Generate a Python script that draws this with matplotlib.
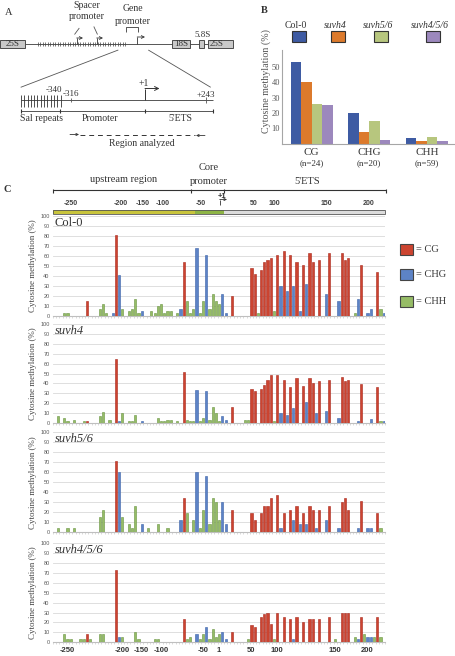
import matplotlib
matplotlib.use('Agg')
import matplotlib.pyplot as plt
from matplotlib.patches import Rectangle
import numpy as np

# ---------------- DATA ----------------
# sequence context of each analysed cytosine (103 positions, 5'->3')
# c = CG, h = CHG, y = CHH
context_codes = ("yyyyyyyyyy" "cyyyyyyyhc" "hyyyyyyhyy" "yyyyyyyyyh" "cyyyhyyhyy"
                 "yyhhycyyyy" "yccyccccyc" "hchchchchc" "chcyhcyyhc" "ccyyhcyhhy" "cyh")
context_names = {'c': 'CG', 'h': 'CHG', 'y': 'CHH'}
contexts = [context_names[k] for k in context_codes]

col0 = [0, 0, 0, 2.5, 2.5, 0, 0, 0, 0, 0,
        15, 0, 0, 0, 7, 12, 2.5, 0, 2.5, 81,
        41, 7, 0, 5, 7, 17, 2.5, 5, 0, 0,
        5, 2.5, 10, 12, 2.5, 5, 5, 0, 2.5, 7,
        54, 15, 2.5, 7, 68, 2.5, 15, 61, 7, 22,
        15, 12, 22, 2.5, 0, 20, 0, 0, 0, 0,
        0, 48, 42, 2.5, 46, 54, 56, 58, 5, 61,
        30, 65, 25, 61, 30, 54, 5, 51, 32, 63,
        54, 0, 56, 0, 22, 63, 0, 0, 15, 63,
        56, 58, 0, 2.5, 17, 51, 0, 2.5, 7, 0,
        44, 7, 2.5]
suvh4 = [0, 7, 0, 5, 2, 0, 3, 0, 0, 2,
         2, 0, 0, 0, 7, 11, 0, 3, 0, 65,
         2, 10, 0, 2, 2, 8, 0, 2, 0, 0,
         0, 0, 5, 2, 2, 3.5, 3.5, 0, 2, 0,
         52, 3.5, 2, 2, 33, 2, 5, 32, 3.5, 16,
         10, 2, 7, 3.5, 0, 16, 0, 0, 0, 3.5,
         3.5, 34, 32, 0, 34, 38, 43, 48, 2, 48,
         10, 43, 8, 36, 15, 45, 0, 37, 21, 45,
         40, 10, 42, 0, 12, 43, 0, 0, 5, 46,
         42, 43, 0, 0, 2, 39, 0, 0, 4, 0,
         36, 2, 2]
suvh56 = [0, 4, 0, 0, 4, 0, 4, 0, 0, 0,
          0, 0, 0, 0, 15, 22, 0, 0, 0, 71,
          60, 15, 0, 8, 4, 26, 0, 8, 0, 4,
          0, 0, 8, 0, 0, 4, 0, 0, 0, 12,
          34, 19, 0, 12, 60, 4, 22, 56, 8, 34,
          30, 12, 30, 8, 0, 22, 0, 0, 0, 0,
          0, 19, 12, 0, 19, 26, 26, 34, 0, 37,
          4, 19, 0, 22, 12, 26, 8, 19, 8, 26,
          22, 4, 22, 0, 12, 26, 0, 0, 4, 30,
          34, 22, 0, 0, 4, 31, 0, 4, 4, 0,
          19, 4, 0]
suvh456 = [0, 0, 0, 8, 3, 3, 0, 0, 3, 3,
           8, 3, 0, 0, 8, 8, 0, 0, 0, 73,
           5, 5, 0, 0, 0, 10, 3, 0, 0, 0,
           0, 3, 3, 0, 0, 0, 0, 0, 0, 0,
           23, 3, 5, 0, 8, 3, 8, 15, 3, 13,
           5, 8, 10, 3, 0, 10, 0, 0, 0, 0,
           3, 17, 15, 0, 25, 28, 30, 18, 3, 30,
           0, 25, 0, 23, 3, 25, 0, 20, 0, 23,
           23, 0, 23, 0, 0, 25, 0, 3, 0, 30,
           30, 30, 0, 5, 3, 25, 8, 5, 5, 5,
           25, 5, 0]
panel_names = ['Col-0', 'suvh4', 'suvh5/6', 'suvh4/5/6']
panel_data = [col0, suvh4, suvh56, suvh456]
xtick_pos = [4, 21, 27, 33, 46, 51, 61, 69, 87, 97]
xtick_labels = ['-250', '-200', '-150', '-100', '-50', '1', '50', '100', '150', '200']
top_labels = ['-250', '-200', '-150', '-100', '-50', '50', '100', '150', '200']

# panel B
b_groups = ['CG', 'CHG', 'CHH']
b_counts = ['(n=24)', '(n=20)', '(n=59)']
b_genotypes = ['Col-0', 'suvh4', 'suvh5/6', 'suvh4/5/6']
b_col0 = [53.5, 20, 3.8]
b_suvh4 = [40, 7.5, 2]
b_suvh56 = [26, 14.5, 4.4]
b_suvh456 = [25, 2.4, 2]

# ---------------- STYLE ----------------
W, H = 456, 656
SERIF = ['Liberation Serif', 'DejaVu Serif']
SANS = ['Liberation Sans', 'DejaVu Sans']
TXT = '#333333'
LINE = '#555555'
ctx_face = {'CG': '#cc4430', 'CHG': '#5d83c6', 'CHH': '#96bc66'}
ctx_edge = {'CG': '#a8251a', 'CHG': '#3a62a8', 'CHH': '#679340'}
b_colors = ['#3e5ba3', '#dc7a2c', '#b7c67e', '#9c88bd']

fig = plt.figure(figsize=(W / 100, H / 100), dpi=100)


def rect(l, t, r, b):
    return [l / W, 1 - b / H, (r - l) / W, (b - t) / H]


ov = fig.add_axes([0, 0, 1, 1])
ov.set_xlim(0, W)
ov.set_ylim(H, 0)
ov.axis('off')


def T(x, y, s, size=7, fam=SERIF, **kw):
    kw.setdefault('ha', 'center')
    kw.setdefault('va', 'center')
    kw.setdefault('color', TXT)
    ov.text(x, y, s, fontsize=size, family=fam, **kw)


def L(xs, ys, lw=0.7, color=LINE, **kw):
    ov.plot(xs, ys, color=color, lw=lw, solid_capstyle='butt', **kw)


def bent_arrow(x, y0, y1, x1, lw=0.6, ms=5):
    L([x, x], [y0, y1], lw=lw, color=TXT)
    ov.annotate('', xy=(x1, y1), xytext=(x - 0.3, y1),
                arrowprops=dict(arrowstyle='->', lw=lw, color=TXT,
                                mutation_scale=ms, shrinkA=0, shrinkB=0))

# ---------------- PANEL A ----------------
T(8.5, 12.5, 'A', 7.5)
L([25, 172], [44, 44])
L([190, 199], [44, 44])
L([204, 208], [44, 44])
for (x0, w, lab) in [(0, 25, '25S'), (172, 18, '18S'), (199, 5, ''), (208, 25, '')]:
    ov.add_patch(Rectangle((x0, 40.3), w, 7.5, facecolor='#c9c9c9',
                           edgecolor='#333333', lw=0.6, zorder=3))
    if lab:
        T(x0 + w / 2, 44.2, lab, 6.5, zorder=4)
T(217, 44.2, '25S', 6.5, zorder=4)
T(202.5, 35, '5.8S', 6.5)
for x in np.arange(38, 128, 2.5):
    L([x, x], [41.8, 46.2], lw=0.5, color='#444444')
bent_arrow(77, 44, 38, 83)
bent_arrow(97, 44, 38, 103)
bent_arrow(137.5, 44, 37, 145)
T(86.5, 6, 'Spacer', 7)
T(87, 16.7, 'promoter', 7)
L([79.3, 74.5], [28, 34.5], lw=0.6)
L([93.8, 97.5], [26.5, 34.5], lw=0.6)
T(133, 8.3, 'Gene', 7)
T(133, 21.5, 'promoter', 7)
L([126, 126, 137.7, 137.7], [31.7, 26.8, 26.8, 31.7], lw=0.7)
L([118.3, 20.7], [50, 87.3], lw=0.6)
L([148.3, 210.7], [50, 87.3], lw=0.6)

L([20.7, 213.3], [100, 100])
for x in np.arange(21, 61, 3.3):
    L([x, x], [95, 106.5], lw=0.6, color='#333333')
L([71, 71], [97.5, 102], lw=0.6)
L([205.7, 205.7], [97, 102.5], lw=0.6)
T(53.5, 90.5, '-340', 6.5)
T(70.5, 94.5, '-316', 6.5)
bent_arrow(145.3, 100, 88.5, 159.5, lw=0.7, ms=7)
T(144, 83, '+1', 7)
T(205.5, 95, '+243', 6.5)
L([20.7, 213.3], [111, 111])
for x in [20.7, 60, 145.3, 213.3]:
    L([x, x], [108.5, 113], lw=0.8, color='#333333')
T(41.5, 118.5, 'Sal repeats', 7)
T(99.5, 118.5, 'Promoter', 7)
T(180, 118.5, "5'ETS", 7)
L([80, 195], [135, 135], lw=0.7, linestyle=(0, (5, 4)), color='#333333')
ov.annotate('', xy=(79, 134.5), xytext=(70, 134.5),
            arrowprops=dict(arrowstyle='->', lw=0.6, color=TXT, mutation_scale=4,
                            shrinkA=0, shrinkB=0))
ov.annotate('', xy=(196, 135.5), xytext=(205, 135.5),
            arrowprops=dict(arrowstyle='->', lw=0.6, color=TXT, mutation_scale=4,
                            shrinkA=0, shrinkB=0))
T(141.7, 143.5, 'Region analyzed', 7)

# ---------------- PANEL B ----------------
T(264.3, 10.7, 'B', 7.5, weight='bold')
legend_x = [299.2, 338.3, 380.7, 432.7]
for i, g in enumerate(b_genotypes):
    T(legend_x[i] - 3, 25, g, 7, style='normal' if g == 'Col-0' else 'italic')
    ov.add_patch(Rectangle((legend_x[i] - 7, 30.7), 14, 11.5, facecolor=b_colors[i],
                           edgecolor='#333333', lw=0.8))
axb = fig.add_axes(rect(282.3, 50, 455, 143.7))
b_series = [b_col0, b_suvh4, b_suvh56, b_suvh456]
bw = 0.183
xg = np.arange(len(b_groups))
for i, vals in enumerate(b_series):
    axb.bar(xg + (i - 1.5) * bw, vals, width=bw, color=b_colors[i], edgecolor='none')
axb.set_xlim(-0.51, 2.49)
axb.set_ylim(0, 61)
axb.set_yticks([10, 20, 30, 40, 50])
axb.set_yticklabels(['10', '20', '30', '40', '50'], family=SERIF, fontsize=6, color='#555555')
axb.tick_params(axis='y', length=0, pad=1.5)
axb.set_xticks([])
for s in ['top', 'right']:
    axb.spines[s].set_visible(False)
for s in ['left', 'bottom']:
    axb.spines[s].set_color('#a6a6a6')
    axb.spines[s].set_linewidth(0.8)
for i, (g, n) in enumerate(zip(b_groups, b_counts)):
    axb.text(i, -0.09, g, transform=axb.get_xaxis_transform(), ha='center', va='center',
             fontsize=8, family=SERIF, color=TXT)
    axb.text(i, -0.21, n, transform=axb.get_xaxis_transform(), ha='center', va='center',
             fontsize=6.5, family=SERIF, color=TXT)
T(266, 80.8, 'Cytosine methylation (%)', 7.2, rotation=90, color='#555555')

# ---------------- PANEL C ----------------
T(7.5, 190, 'C', 7.5, weight='bold')
T(123.3, 180, 'upstream region', 7.5)
T(208.5, 167, 'Core', 7.5)
T(208.5, 181.7, 'promoter', 7.5)
T(306.7, 181.7, "5'ETS", 7.5)
L([53.3, 386], [189.5, 189.5], lw=0.8, color='#333333')
for x in [53.5, 190.7, 224.5, 385.7]:
    L([x, x], [189.1, 193], lw=0.8, color='#333333')
T(222, 196.3, '+1', 5.5, fam=SANS, weight='bold')
bent_arrow(220, 205, 199.5, 227, lw=0.6, ms=4)
top_x = [71, 120.7, 142.7, 162.7, 200.3, 253.3, 274, 326.7, 369]
for x, s in zip(top_x, top_labels):
    T(x, 203.3, s, 5, fam=SANS, weight='bold', color='#404040')
ov.add_patch(Rectangle((53.3, 209.8), 195 - 53.3, 3.7, facecolor='#c8c43c', edgecolor='none'))
ov.add_patch(Rectangle((195, 209.8), 224.3 - 195, 3.7, facecolor='#8db445', edgecolor='none'))
ov.add_patch(Rectangle((224.3, 209.8), 385.3 - 224.3, 3.7, facecolor='#dcdcdc', edgecolor='none'))
ov.add_patch(Rectangle((53.3, 209.8), 385.3 - 53.3, 3.7, facecolor='none',
                       edgecolor='#555555', lw=0.6))

# legend
for yc, ctx in zip([249.5, 274.2, 301.2], ['CG', 'CHG', 'CHH']):
    ov.add_patch(Rectangle((400, yc - 5.5), 13.3, 11, facecolor=ctx_face[ctx],
                           edgecolor='#444444', lw=0.8))
    T(416, yc, '= ' + ctx, 7.5, ha='left')

panel_px = [(215.5, 316), (324, 423), (432, 532.3), (543, 642.3)]
xpos = np.arange(len(contexts))
faces = [ctx_face[c] for c in contexts]
edges = [ctx_edge[c] for c in contexts]
for k, (name, vals, (top, bot)) in enumerate(zip(panel_names, panel_data, panel_px)):
    ax = fig.add_axes(rect(53, top, 385.3, bot))
    ax.set_facecolor('none')
    lws = [0.4 if v > 0 else 0 for v in vals]
    ax.bar(xpos, vals, width=0.68, color=faces, edgecolor=edges, linewidth=lws, zorder=3)
    ax.set_xlim(-0.5, len(contexts) - 0.5)
    ax.set_ylim(0, 100)
    ax.set_yticks(np.arange(0, 101, 10))
    ax.set_yticklabels([str(v) for v in range(0, 101, 10)], family=SANS, fontsize=4,
                       color='#595959')
    ax.tick_params(axis='y', length=0, pad=2.5)
    ax.yaxis.grid(True, color='#d9d9d9', lw=0.6, zorder=0)
    ax.set_axisbelow(True)
    for s in ['top', 'right', 'left']:
        ax.spines[s].set_visible(False)
    ax.spines['bottom'].set_color('#bfbfbf')
    ax.spines['bottom'].set_linewidth(0.8)
    ax.set_xticks(np.arange(-0.5, len(contexts), 1), minor=True)
    ax.tick_params(axis='x', which='minor', length=1.5, width=0.4, color='#bfbfbf')
    ax.set_xticks(xtick_pos)
    if k == len(panel_names) - 1:
        ax.set_xticklabels(xtick_labels, family=SANS, fontsize=5.5, color='#333333',
                           weight='bold')
    else:
        ax.set_xticklabels([])
    ax.tick_params(axis='x', which='major', length=0, pad=3.5)
    ax.text(0.006, 0.93, name, transform=ax.transAxes, ha='left', va='center',
            fontsize=9, family=SERIF, color=TXT,
            style='normal' if name == 'Col-0' else 'italic')
    T(33.3, (top + bot) / 2, 'Cytosine methylation (%)', 6.5, rotation=90, color='#444444')

fig.savefig('out.png', dpi=100)
